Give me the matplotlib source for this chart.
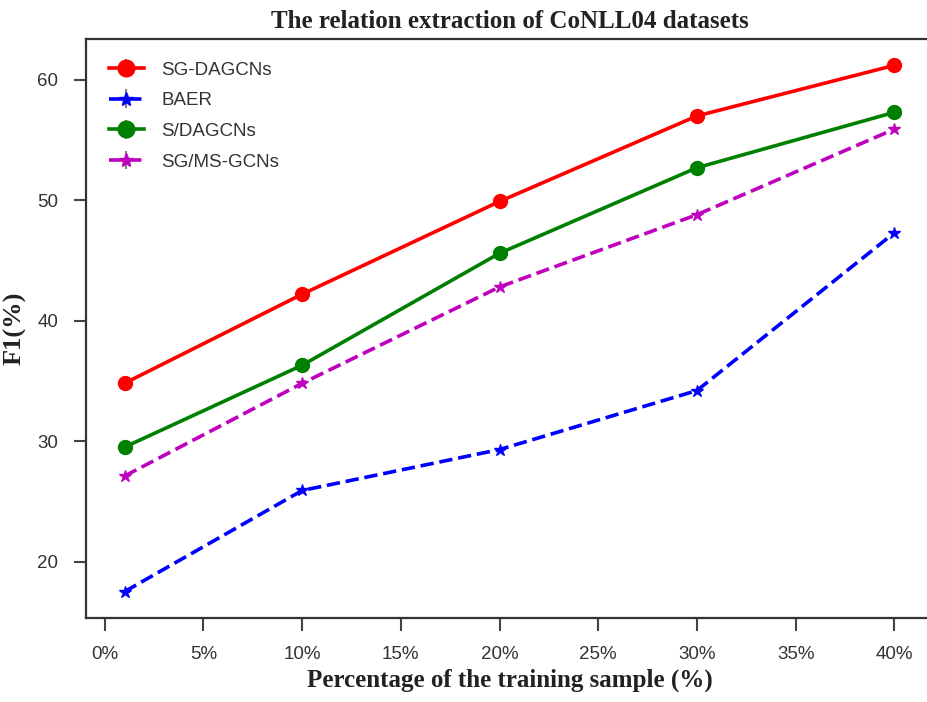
import matplotlib
matplotlib.use("Agg")
from matplotlib import pyplot as plt
from matplotlib.ticker import FuncFormatter

# training sample percentage
x = [1, 10, 20, 30, 40]

sg_dagcns = [34.8, 42.2, 49.9, 57.0, 61.2]
baer = [17.5, 25.9, 29.3, 34.2, 47.3]
s_dagcns = [29.5, 36.3, 45.6, 52.7, 57.3]
sg_ms_gcns = [27.1, 34.8, 42.8, 48.8, 55.9]

series = [
    ("SG-DAGCNs", sg_dagcns, "r", "-", "o"),
    ("BAER", baer, "b", "--", "*"),
    ("S/DAGCNs", s_dagcns, "g", "-", "o"),
    ("SG/MS-GCNs", sg_ms_gcns, "m", "--", "*"),
]

plt.rcParams["font.family"] = ["Liberation Sans", "DejaVu Sans"]

fig = plt.figure(figsize=(9.27, 7.02), dpi=100)
ax = fig.add_axes([0.0928, 0.1197, 0.9135, 0.8247])

for name, vals, color, ls, marker in series:
    ms = 10 if marker == "o" else 9
    ax.errorbar(x, vals, yerr=[0] * len(vals), color=color, linestyle=ls,
                linewidth=2.6, marker=marker, markersize=ms, ecolor="gray",
                elinewidth=1.5, label=name)

ax.set_xticks([0, 5, 10, 15, 20, 25, 30, 35, 40])
ax.xaxis.set_major_formatter(FuncFormatter(lambda v, p: f"{v:.0f}%"))
ax.set_yticks([20, 30, 40, 50, 60])

for side in ["left", "bottom", "top"]:
    ax.spines[side].set_color("#333333")
    ax.spines[side].set_linewidth(1.6)
# the picture is cut off before the right edge of the axes
ax.spines["right"].set_visible(False)
ax.tick_params(direction="out", length=9, width=1.5, color="#444444",
               labelsize=13.5, labelcolor="#333333", pad=11)

serif = ["Liberation Serif", "DejaVu Serif"]
ax.set_title("The relation extraction of CoNLL04 datasets", family=serif,
             fontweight="bold", fontsize=18, color="#222222", pad=8)
ax.set_xlabel("Percentage of the training sample (%)", family=serif,
              fontweight="bold", fontsize=18, color="#222222", labelpad=4)
ax.set_ylabel("F1(%)", family=serif, fontweight="bold", fontsize=19,
              color="#222222", labelpad=8)

leg = ax.legend(loc="upper left", frameon=False, fontsize=13.5,
                handlelength=1.9, handletextpad=0.9, markerscale=1.2,
                borderpad=0.7, labelspacing=0.72)
for t in leg.get_texts():
    t.set_color("#333333")

fig.savefig("out.png", dpi=100)
